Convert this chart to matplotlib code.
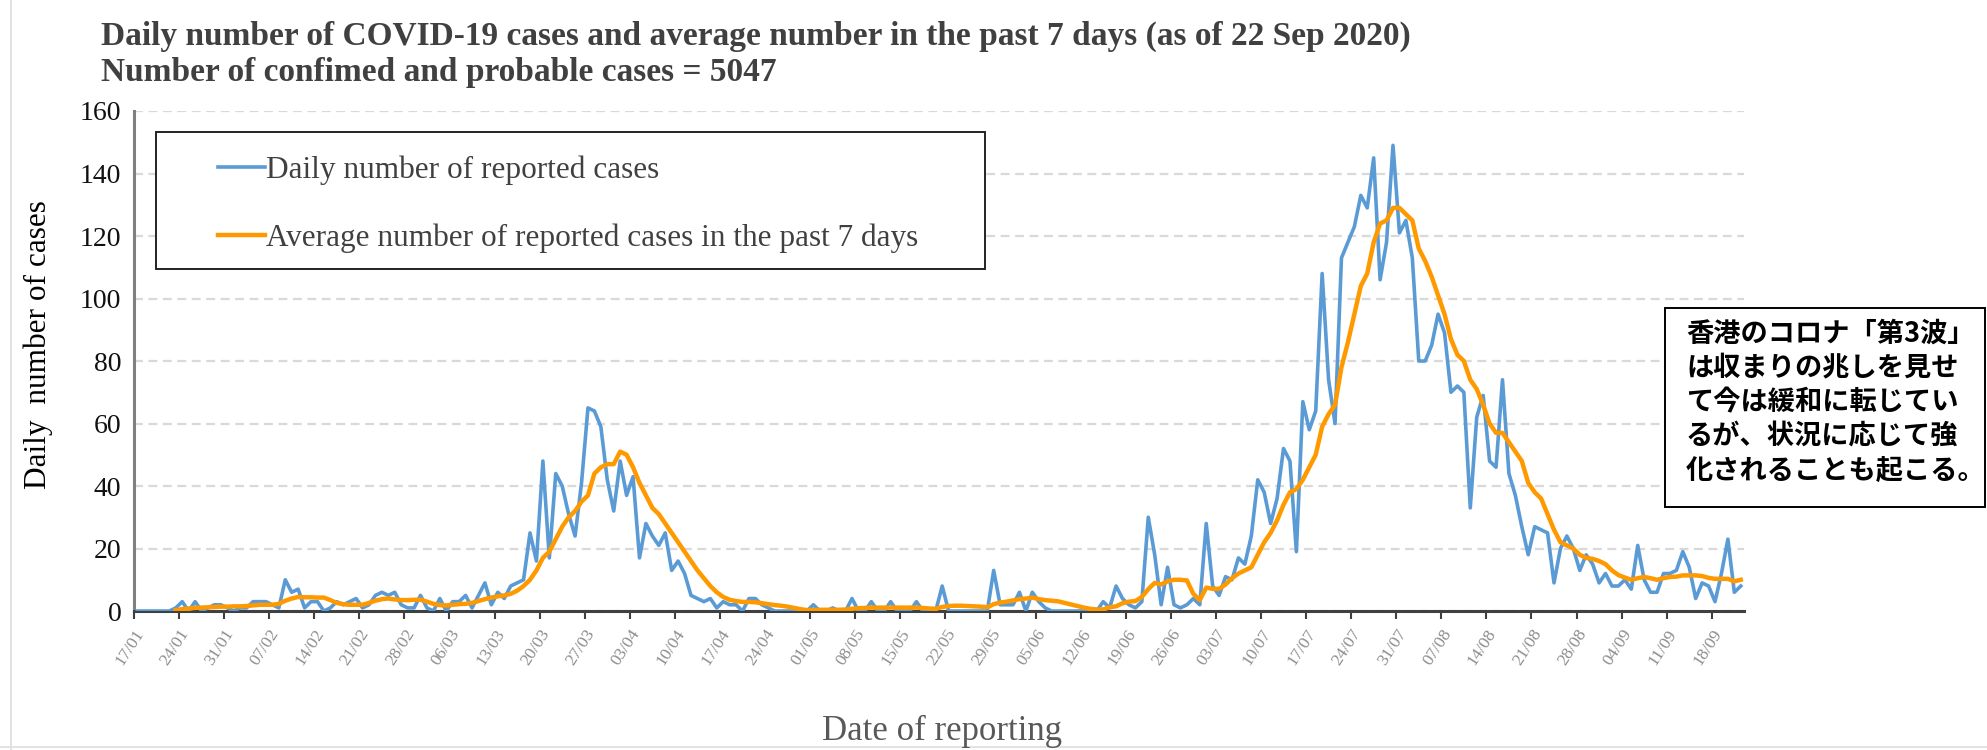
import numpy as np
import matplotlib
matplotlib.use('Agg')
import matplotlib.pyplot as plt
from matplotlib.patches import Rectangle
from matplotlib.lines import Line2D

plt.rcParams['font.family'] = 'Liberation Serif'

# daily reported cases, 17 Jan .. 22 Sep 2020
daily = [0, 0, 0, 0, 0, 0, 1, 3, 0, 3,
         0, 1, 2, 2, 1, 0, 1, 1, 3, 3,
         3, 2, 1, 10, 6, 7, 1, 3, 3, 0,
         1, 3, 2, 3, 4, 1, 2, 5, 6, 5,
         6, 2, 1, 1, 5, 1, 0, 4, 0, 3,
         3, 5, 1, 5, 9, 2, 6, 4, 8, 9,
         10, 25, 16, 48, 17, 44, 40, 31, 24, 41,
         65, 64, 59, 42, 32, 48, 37, 43, 17, 28,
         24, 21, 25, 13, 16, 12, 5, 4, 3, 4,
         1, 3, 2, 2, 0, 4, 4, 2, 1, 0,
         0, 0, 0, 0, 0, 2, 0, 0, 1, 0,
         0, 4, 0, 0, 3, 0, 0, 3, 0, 0,
         0, 3, 0, 0, 0, 8, 0, 0, 0, 0,
         0, 0, 0, 13, 2, 2, 2, 6, 0, 6,
         3, 1, 0, 0, 0, 0, 0, 0, 0, 0,
         3, 1, 8, 4, 2, 1, 3, 30, 18, 2,
         14, 2, 1, 2, 4, 2, 28, 8, 5, 11,
         10, 17, 15, 24, 42, 38, 28, 36, 52, 48,
         19, 67, 58, 64, 108, 74, 60, 113, 118, 123,
         133, 129, 145, 106, 118, 149, 121, 125, 113, 80,
         80, 85, 95, 89, 70, 72, 70, 33, 62, 69,
         48, 46, 74, 44, 37, 27, 18, 27, 26, 25,
         9, 20, 24, 20, 13, 18, 15, 9, 12, 8,
         8, 10, 7, 21, 10, 6, 6, 12, 12, 13,
         19, 14, 4, 9, 8, 3, 12, 23, 6, 8]

# 7-day average line
avg7 = [np.nan] * 6 + [0.3, 0.6, 0.8, 1.0,
        1.1, 1.2, 1.3, 1.4, 1.4, 1.5, 1.5, 1.6, 1.8, 2.0,
        2.0, 2.0, 2.3, 3.3, 4.0, 4.5, 4.4, 4.4, 4.3, 4.3,
        3.5, 2.6, 2.2, 2.0, 2.0, 2.0, 2.6, 3.3, 3.8, 4.0,
        3.7, 3.5, 3.5, 3.6, 3.6, 3.0, 2.3, 1.9, 1.8, 2.0,
        2.2, 2.3, 2.6, 3.2, 3.8, 4.3, 4.7, 5.0, 5.5, 6.5,
        8, 10, 13, 17, 19, 23, 27, 30, 32, 35,
        37, 44, 46, 47, 47, 51, 50, 46, 41, 37,
        33, 31, 28, 25, 22, 19, 16, 13, 10.5, 8,
        6, 4.5, 3.6, 3.2, 2.9, 2.9, 2.8, 2.5, 2.2, 1.9,
        1.7, 1.4, 1.0, 0.6, 0.3, 0.3, 0.4, 0.4, 0.4, 0.4,
        0.5, 0.7, 0.9, 1.0, 1.1, 1.1, 1.1, 1.1, 1.1, 1.1,
        1.1, 1.1, 1.0, 0.8, 0.7, 1.3, 1.6, 1.7, 1.7, 1.6,
        1.5, 1.4, 1.2, 2.2, 2.7, 3.0, 3.4, 3.8, 4.0, 4.3,
        3.8, 3.5, 3.3, 3.1, 2.6, 2.1, 1.6, 1.1, 0.7, 0.5,
        0.5, 1.2, 1.5, 2.5, 3.0, 3.2, 4.5, 7.0, 9.0, 8.5,
        9.5, 10, 10, 9.8, 5.5, 3.5, 7.5, 7.1, 7.1, 8.5,
        10.5, 12, 13, 14, 18, 22, 25, 29, 34, 38,
        39, 42, 46, 50, 59, 63, 66, 78, 86, 95,
        104, 108, 118, 124, 125, 129, 129, 127, 125, 116,
        112, 107, 101, 95, 87, 82, 80, 74, 71, 66,
        60, 57, 57, 54, 51, 48, 41, 38, 36, 31,
        26, 22, 21, 20, 18, 17, 16.7, 16, 15, 13,
        11.5, 10.7, 10, 10.5, 10.9, 10.5, 10, 10.5, 10.9, 11,
        11.4, 11.4, 11.4, 11.2, 10.6, 10.3, 10.3, 10.3, 9.5, 10]

tick_labels = ['17/01', '24/01', '31/01', '07/02', '14/02', '21/02', '28/02',
               '06/03', '13/03', '20/03', '27/03', '03/04', '10/04', '17/04',
               '24/04', '01/05', '08/05', '15/05', '22/05', '29/05', '05/06',
               '12/06', '19/06', '26/06', '03/07', '10/07', '17/07', '24/07',
               '31/07', '07/08', '14/08', '21/08', '28/08', '04/09', '11/09',
               '18/09']

title1 = 'Daily number of COVID-19 cases and average number in the past 7 days (as of 22 Sep 2020)'
title2 = 'Number of confimed and probable cases = 5047'
note = '香港のコロナ「第3波」\nは収まりの兆しを見せ\nて今は緩和に転じてい\nるが、状況に応じて強\n化されることも起こる。'

x = np.arange(len(daily)) + 0.5

fig = plt.figure(figsize=(19.87, 7.5), dpi=100)
ax = fig.add_axes([0.0674, 0.1853, 0.8103, 0.6667])

l1, = ax.plot(x, daily, color='#5B9BD5', lw=2.6, zorder=3)
l2, = ax.plot(x, avg7, color='#FF9900', lw=3.2, zorder=4)

ax.set_xlim(0, 250)
ax.set_ylim(0, 160)
ax.set_yticks(range(0, 161, 20))
ax.set_xticks(np.arange(len(tick_labels)) * 7)
ax.set_xticklabels(tick_labels, rotation=57, ha='right', va='top', rotation_mode='anchor',
                   color='#8C8C8C', fontsize=12.5)
ax.yaxis.grid(True, ls=(0, (4, 2.5)), color='#D9D9D9', lw=1.6)
ax.set_axisbelow(True)

for s in ['top', 'right']:
    ax.spines[s].set_visible(False)
ax.spines['left'].set_color('#808080')
ax.spines['left'].set_linewidth(2.2)
ax.spines['bottom'].set_color('#404040')
ax.spines['bottom'].set_linewidth(2.2)
ax.tick_params(axis='y', length=0, pad=9, labelsize=20, labelcolor='#111111')
ax.tick_params(axis='x', length=6, width=1.5, color='#404040', pad=5)

# titles and axis labels
fig.text(0.0508, 0.951, title1, fontsize=24, weight='bold', color='#404040', va='center')
fig.text(0.0508, 0.903, title2, fontsize=24, weight='bold', color='#404040', va='center')
fig.text(0.0191, 0.541, 'Daily  number of cases', rotation=90, fontsize=22.5,
         ha='center', va='center')
fig.text(0.474, 0.025, 'Date of reporting', fontsize=25, color='#595959',
         ha='center', va='center')

# legend box
fig.add_artist(Rectangle((0.0785, 0.6413), 0.4172, 0.1827, transform=fig.transFigure,
                         facecolor='white', edgecolor='#222222', lw=1.4, zorder=4))
fig.legend([l1, l2], ['Daily number of reported cases',
                      'Average number of reported cases in the past 7 days'],
           loc='upper left', bbox_to_anchor=(0.1097, 0.7927), frameon=False,
           fontsize=22.5, handlelength=1.5, handletextpad=0.05, labelspacing=1.22,
           borderpad=0, borderaxespad=0, labelcolor='#404040').set_zorder(5)

# note box
fig.add_artist(Rectangle((0.838, 0.324), 0.161, 0.2653, transform=fig.transFigure,
                         facecolor='white', edgecolor='black', lw=1.4, zorder=4))
fig.text(0.8485, 0.574, note, family=['Noto Sans CJK JP', 'DejaVu Sans'], weight='bold',
         fontsize=19.6, va='top', ha='left', linespacing=1.29, zorder=5)

# faint page edges from the screenshot
fig.add_artist(Line2D([0.0055, 0.0055], [0.0, 1.0], transform=fig.transFigure,
                      color='#DDDDDD', lw=1.2))
fig.add_artist(Line2D([0.0, 1.0], [0.004, 0.004], transform=fig.transFigure,
                      color='#E3E3E3', lw=1.5))

fig.savefig('out.png', dpi=100)
